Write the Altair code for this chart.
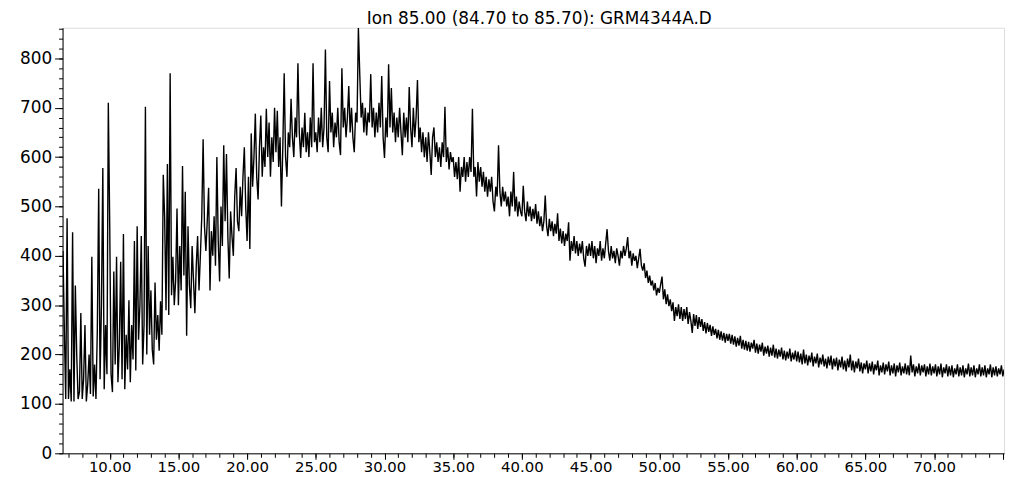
import altair as alt
import pandas as pd

TITLE = "Ion  85.00 (84.70 to 85.70): GRM4344A.D"
T_START = 6.6
T_STEP = 0.1

# abundance, one value per 0.1 min scan
v_07_10 = [410, 250, 110, 476, 110, 170, 105, 448, 105, 340, 200, 110, 125, 284, 110, 150, 260, 105, 140, 200,
           120, 398, 115, 180, 110, 250, 536, 150, 300, 578, 130, 260, 160, 710]
v_10_15 = [468, 160, 124, 368, 180, 398, 144, 220, 388, 150, 444, 130, 240, 170, 310, 144, 260, 190, 430, 168,
           460, 230, 300, 440, 180, 260, 702, 200, 420, 240, 330, 210, 180, 346, 230, 280, 208, 308, 240, 564,
           478, 290, 586, 280, 770, 320, 398, 300, 350, 496]
v_15_20 = [300, 420, 330, 582, 360, 530, 238, 460, 340, 294, 420, 350, 284, 380, 440, 330, 400, 478, 636, 460,
           410, 470, 538, 330, 450, 400, 480, 380, 600, 430, 348, 500, 420, 624, 470, 606, 440, 354, 490, 440,
           400, 520, 578, 470, 450, 540, 480, 560, 620, 500]
v_20_25 = [430, 560, 414, 648, 540, 600, 688, 560, 514, 620, 684, 560, 620, 580, 698, 600, 670, 560, 640, 590,
           700, 610, 694, 580, 640, 500, 620, 770, 600, 560, 650, 620, 718, 640, 600, 680, 640, 790, 650, 598,
           660, 620, 690, 610, 650, 600, 680, 620, 790, 630]
v_25_30 = [650, 610, 680, 630, 700, 620, 660, 818, 640, 610, 754, 650, 690, 620, 670, 640, 700, 630, 604, 780,
           660, 700, 640, 680, 744, 650, 700, 640, 610, 690, 670, 862, 768, 680, 710, 650, 700, 644, 690, 670,
           768, 660, 700, 640, 690, 650, 710, 660, 764, 640]
v_30_35 = [598, 680, 640, 788, 660, 740, 650, 690, 630, 680, 640, 700, 650, 604, 690, 640, 680, 630, 742, 660,
           620, 700, 640, 680, 756, 630, 660, 610, 650, 600, 640, 590, 650, 610, 564, 640, 660, 600, 630, 590,
           620, 580, 630, 600, 702, 590, 620, 575, 610, 590]
v_35_40 = [600, 560, 590, 555, 600, 530, 580, 560, 600, 550, 590, 560, 600, 570, 698, 560, 580, 520, 590, 550,
           580, 540, 570, 530, 560, 520, 555, 530, 560, 510, 490, 540, 520, 624, 530, 500, 540, 510, 530, 500,
           520, 480, 530, 500, 570, 490, 520, 480, 510, 490]
v_40_45 = [480, 542, 490, 470, 510, 480, 500, 470, 495, 475, 505, 465, 490, 460, 480, 450, 470, 522, 460, 440,
           475, 450, 470, 440, 465, 445, 486, 430, 455, 425, 450, 420, 445, 430, 468, 390, 430, 410, 440, 405,
           430, 400, 425, 405, 430, 395, 378, 420, 400, 425]
v_45_50 = [400, 430, 395, 420, 385, 415, 400, 430, 390, 415, 395, 425, 454, 410, 390, 420, 395, 410, 385, 415,
           400, 380, 410, 395, 420, 400, 415, 438, 395, 410, 380, 405, 390, 400, 375, 395, 414, 380, 370, 385,
           355, 370, 345, 360, 340, 350, 330, 345, 320, 335]
v_50_55 = [325, 342, 358, 312, 332, 302, 322, 298, 312, 288, 306, 268, 296, 278, 302, 272, 296, 268, 292, 272,
           296, 262, 286, 268, 244, 282, 258, 280, 252, 276, 256, 272, 248, 266, 243, 264, 246, 260, 238, 257,
           240, 252, 233, 250, 230, 247, 228, 244, 224, 242]
v_55_60 = [228, 242, 222, 240, 220, 237, 216, 234, 218, 238, 212, 230, 210, 228, 208, 226, 206, 224, 212, 230,
           204, 222, 202, 220, 206, 224, 198, 216, 202, 218, 196, 214, 198, 220, 194, 212, 192, 210, 196, 214,
           190, 208, 188, 206, 192, 212, 186, 204, 190, 208]
v_60_65 = [186, 206, 184, 202, 180, 210, 182, 200, 178, 198, 184, 204, 176, 196, 182, 202, 174, 194, 180, 200,
           176, 192, 172, 196, 178, 198, 170, 192, 176, 194, 168, 190, 174, 196, 170, 188, 166, 192, 174, 200,
           168, 188, 164, 186, 172, 192, 166, 184, 162, 182]
v_65_70 = [170, 188, 162, 182, 166, 186, 160, 180, 168, 188, 158, 178, 164, 184, 160, 180, 166, 186, 158, 178,
           162, 182, 156, 178, 164, 184, 158, 176, 162, 182, 160, 178, 158, 198, 164, 180, 156, 176, 162, 182,
           158, 178, 164, 180, 156, 176, 160, 182, 158, 176]
v_70_75 = [162, 180, 156, 176, 160, 182, 154, 174, 162, 180, 156, 176, 158, 178, 154, 172, 160, 180, 156, 174,
           158, 178, 154, 172, 160, 182, 156, 174, 158, 178, 154, 172, 160, 180, 156, 174, 158, 178, 154, 172,
           160, 180, 154, 174, 158, 176, 156, 172, 160, 178, 156, 170]

y_major = [0, 100, 200, 300, 400, 500, 600, 700, 800]
y_minor = list(range(0, 861, 20))
x_major = [10, 15, 20, 25, 30, 35, 40, 45, 50, 55, 60, 65, 70, 75]
x_minor = list(range(7, 76))

values = (v_07_10 + v_10_15 + v_15_20 + v_20_25 + v_25_30 + v_30_35 + v_35_40 + v_40_45 +
          v_45_50 + v_50_55 + v_55_60 + v_60_65 + v_65_70 + v_70_75)
times = [round(T_START + T_STEP * i, 1) for i in range(len(values))]
df = pd.DataFrame({"t": times, "v": values})

FONT = "DejaVu Sans"
xscale = alt.Scale(domain=[6.57, 75.09], nice=False, zero=False)
yscale = alt.Scale(domain=[0, 862], nice=False)

main = alt.Chart(df).mark_line(color="black", strokeWidth=1.4, clip=True).encode(
    x=alt.X("t:Q", scale=xscale, axis=alt.Axis(
        values=x_major, title=None, grid=False, tickSize=6, tickColor="black", domainColor="black",
        labelExpr="datum.value >= 75 ? '' : format(datum.value, '.2f')",
        labelFont=FONT, labelFontSize=15, labelColor="black", labelPadding=0, labelFlush=False,
        labelOverlap=False)),
    y=alt.Y("v:Q", scale=yscale, axis=alt.Axis(
        values=y_major, title=None, grid=False, tickSize=8, tickColor="black", domainColor="black",
        labelFont=FONT, labelFontSize=17, labelColor="black", labelPadding=3, labelOverlap=False)),
)

minor = alt.Chart(df).mark_line(strokeOpacity=0).encode(
    x=alt.X("t:Q", scale=xscale, axis=alt.Axis(
        orient="bottom", values=x_minor, title=None, grid=False, labels=False, domain=False,
        tickSize=4, tickColor="black")),
    y=alt.Y("v:Q", scale=yscale, axis=alt.Axis(
        orient="left", values=y_minor, title=None, grid=False, labels=False, domain=False,
        tickSize=4, tickColor="black")),
)

chart = alt.layer(main, minor).resolve_axis(x="independent", y="independent").properties(
    width=949, height=429,
    title=alt.TitleParams(TITLE, font=FONT, fontSize=17, fontWeight="normal", color="black",
                          anchor="middle", frame="group", offset=0, dx=6),
    autosize=alt.AutoSizeParams(type="none"),
    padding={"left": 55, "top": 18, "right": 2, "bottom": 25},
).configure_view(stroke=None).configure(background="white")

chart.save("out.html", embed_options={"renderer": "svg", "actions": False})
